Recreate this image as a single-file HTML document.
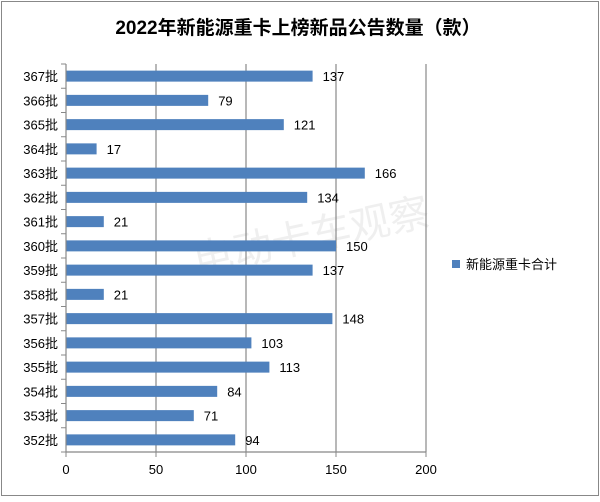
<!DOCTYPE html>
<html><head><meta charset="utf-8"><style>
body{margin:0;background:#fff}
svg text{font-family:"Liberation Sans","Noto Sans CJK SC",sans-serif}
</style></head><body>
<svg id="c" width="600" height="497" xmlns="http://www.w3.org/2000/svg">
<rect x="1.5" y="1.5" width="597" height="494" fill="#fff" stroke="#888"/>
<text x="298" y="34" text-anchor="middle" font-size="19" font-weight="bold" fill="#000">2022年新能源重卡上榜新品公告数量（款）</text>
<text x="310" y="250" text-anchor="middle" font-size="40" fill="#000" opacity="0.06" transform="rotate(-12 310 230)">电动卡车观察</text>
<g id="plot"></g>
<rect x="452" y="260" width="8" height="8" fill="#4f81bd"/>
<text x="466" y="269" font-size="13" fill="#000">新能源重卡合计</text>
</svg>
<script>
const categories=["367批","366批","365批","364批","363批","362批","361批","360批","359批","358批","357批","356批","355批","354批","353批","352批"];
const values=[137,79,121,17,166,134,21,150,137,21,148,103,113,84,71,94];
const xTicks=[0,50,100,150,200];
const NS="http://www.w3.org/2000/svg";
const g=document.getElementById('plot');
const x0=66,x1=426,yTop=64,yBot=452,xmax=200;
const xs=v=>x0+(x1-x0)*v/xmax;
const rowH=(yBot-yTop)/categories.length;
function mk(t,a){const e=document.createElementNS(NS,t);for(const k in a)e.setAttribute(k,a[k]);g.appendChild(e);return e;}
xTicks.forEach((t,i)=>{
  if(i>0){const l=mk('line',{x1:xs(t),x2:xs(t),y1:yTop,y2:yBot,stroke:'#888','stroke-width':1.2});
  
  }
  const tk=mk('line',{x1:xs(t),x2:xs(t),y1:yBot,y2:yBot+5,stroke:'#888'});
  
  
  const tx=mk('text',{x:xs(t),y:yBot+22,'text-anchor':'middle','font-size':13,fill:'#000'});
  tx.textContent=t;
  
  
});
for(let i=0;i<=categories.length;i++){
  const y=yTop+i*rowH;
  const tk=mk('line',{x1:x0-5,x2:x0,y1:y,y2:y,stroke:'#888'});
  
  
}
categories.forEach((c,i)=>{
  const cy=yTop+(i+0.5)*rowH;
  const b=mk('rect',{x:x0,y:cy-5.5,width:xs(values[i])-x0,height:11,fill:'#4f81bd'});
  
  
  const v=mk('text',{x:xs(values[i])+10,y:cy+5,'font-size':13,fill:'#000'});
  v.textContent=values[i];
  
  
  const l=mk('text',{x:x0-8,y:cy+5,'text-anchor':'end','font-size':13,fill:'#000'});
  l.textContent=c;
  
  
});
const ax=mk('line',{x1:x0,x2:x0,y1:yTop,y2:yBot,stroke:'#888','stroke-width':1.2});


const bx=mk('line',{x1:x0,x2:x1,y1:yBot,y2:yBot,stroke:'#888','stroke-width':1.2});


</script>
</body></html>
